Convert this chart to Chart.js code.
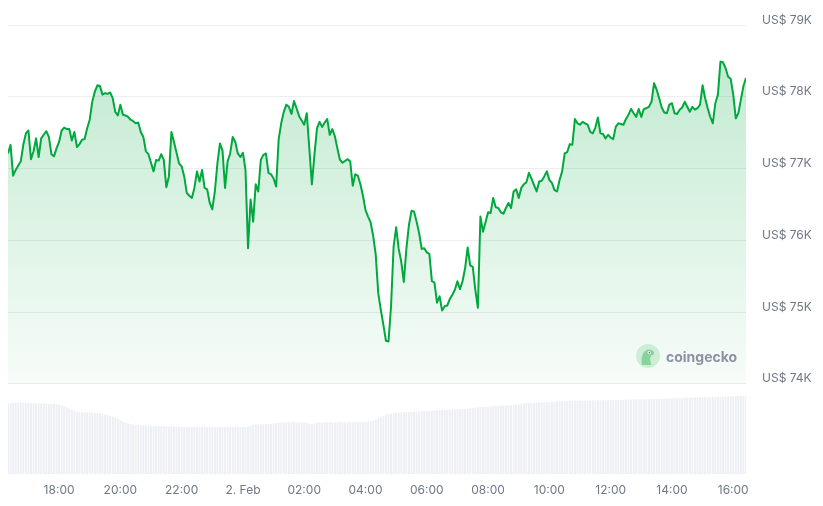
<!DOCTYPE html>
<html>
<head>
<meta charset="utf-8">
<script src="https://cdn.jsdelivr.net/npm/chart.js@4.4.1/dist/chart.umd.min.js"></script>
<style>
  html, body { margin: 0; padding: 0; background: #fff; }
  #wrap { position: relative; width: 823px; height: 506px; overflow: hidden; }
  #priceChart { position: absolute; left: 0; top: 0; }
  #volumeChart { position: absolute; left: 0; top: 392px; }
  #mark { position: absolute; left: 636px; top: 344px; height: 24px; display: flex; align-items: center;
          font-family: Inter, "Noto Sans", sans-serif; font-weight: 700; font-size: 14px; color: #8a93a2; }
  #mark svg { margin-right: 6px; }
</style>
</head>
<body>
<div id="wrap">
  <canvas id="volumeChart" width="823" height="114"></canvas>
  <canvas id="priceChart" width="823" height="407"></canvas>
  <div id="mark">
    <svg width="24" height="24" viewBox="0 0 24 24">
      <circle cx="12" cy="12" r="12" fill="#cdeed5"/>
      <path d="M6 21 C5 15 6 9 10 6.5 C13 4.5 17 5.5 18 8.5 C18.6 10.5 17 11.5 15 11.5 C14 14 14 17 15.5 21 Z" fill="#86d49a"/>
      <circle cx="13.2" cy="8.6" r="1.6" fill="#fff"/>
      <circle cx="13.4" cy="8.6" r="0.8" fill="#5b6472"/>
    </svg>
    <span>coingecko</span>
  </div>
</div>
<script>
// BTC price, 1 Feb 16:20 -> 2 Feb 16:25 (time = minutes since 1 Feb 00:00)
const priceMinutes = [
  980, 985, 990, 995, 1005, 1010, 1015, 1020, 1025, 1030, 1035, 1040, 1045, 1050, 1055, 1060, 1065, 1070, 1075,
  1080, 1085, 1090, 1095, 1100, 1105, 1110, 1115, 1120, 1125, 1130, 1135, 1140, 1145, 1150, 1155, 1160, 1165,
  1170, 1175, 1180, 1185, 1190, 1195, 1200, 1205, 1210, 1215, 1220, 1225, 1230, 1235, 1240, 1245, 1250, 1255,
  1260, 1265, 1270, 1275, 1280, 1285, 1290, 1295, 1300, 1305, 1310, 1315, 1320, 1325, 1330, 1335, 1340, 1345,
  1350, 1355, 1360, 1365, 1370, 1375, 1380, 1385, 1390, 1395, 1400, 1405, 1410, 1415, 1420, 1425, 1430, 1435,
  1440, 1445, 1450, 1455, 1460, 1465, 1470, 1475, 1480, 1485, 1490, 1495, 1500, 1505, 1510, 1515, 1520, 1525,
  1530, 1535, 1540, 1545, 1550, 1560, 1565, 1570, 1575, 1580, 1585, 1590, 1595, 1600, 1605, 1610, 1615, 1620,
  1625, 1630, 1635, 1645, 1650, 1655, 1660, 1665, 1670, 1675, 1680, 1685, 1690, 1695, 1700, 1705, 1710, 1715,
  1720, 1725, 1730, 1735, 1740, 1745, 1750, 1755, 1760, 1765, 1770, 1775, 1780, 1785, 1790, 1795, 1800, 1805,
  1810, 1815, 1820, 1825, 1830, 1835, 1840, 1845, 1850, 1855, 1860, 1865, 1870, 1875, 1880, 1885, 1890, 1895,
  1900, 1905, 1910, 1915, 1920, 1925, 1930, 1935, 1940, 1945, 1950, 1955, 1960, 1965, 1970, 1975, 1980, 1985,
  1990, 1995, 2000, 2005, 2010, 2015, 2020, 2025, 2030, 2035, 2040, 2045, 2050, 2055, 2060, 2065, 2070, 2075,
  2080, 2085, 2090, 2095, 2100, 2105, 2110, 2115, 2120, 2125, 2130, 2135, 2140, 2145, 2150, 2155, 2160, 2165,
  2170, 2175, 2180, 2185, 2190, 2195, 2200, 2205, 2210, 2215, 2220, 2225, 2230, 2235, 2240, 2245, 2250, 2255,
  2260, 2265, 2270, 2275, 2280, 2285, 2290, 2295, 2300, 2305, 2310, 2315, 2320, 2325, 2330, 2335, 2340, 2345,
  2350, 2355, 2360, 2365, 2370, 2375, 2380, 2385, 2390, 2395, 2400, 2405, 2410, 2415, 2420, 2425
];
const priceValues = [
  77210, 77330, 76900, 76980, 77100, 77330, 77490, 77530, 77130, 77240, 77420, 77160, 77420, 77470, 77520, 77440, 77200, 77170, 77280,
  77370, 77530, 77570, 77550, 77550, 77390, 77510, 77300, 77340, 77400, 77410, 77560, 77680, 77930, 78070, 78160, 78150, 78030,
  78050, 78040, 78060, 77980, 77790, 77740, 77890, 77750, 77740, 77720, 77680, 77660, 77630, 77640, 77510, 77440, 77240, 77200,
  77080, 76960, 77120, 77110, 77200, 77120, 76740, 76890, 77510, 77370, 77220, 77070, 77030, 76890, 76660, 76620, 76590, 76730,
  76960, 76820, 76980, 76730, 76710, 76520, 76430, 76680, 77070, 77350, 77250, 76730, 77100, 77210, 77440, 77370, 77210, 77160,
  77220, 76980, 75890, 76570, 76260, 76780, 76680, 77120, 77190, 77210, 76940, 76920, 76860, 76750, 77410, 77630, 77790, 77890,
  77860, 77760, 77940, 77840, 77730, 77610, 77770, 77280, 76780, 77190, 77560, 77650, 77580, 77640, 77690, 77470, 77550, 77450,
  77280, 77120, 77080, 77130, 77100, 76760, 76920, 76900, 76780, 76620, 76420, 76330, 76250, 76060, 75800, 75260, 75030, 74820,
  74600, 74590, 75080, 75910, 76180, 75880, 75700, 75420, 75880, 76210, 76410, 76400, 76260, 76100, 75880, 75890, 75830, 75810,
  75430, 75410, 75130, 75220, 75020, 75080, 75090, 75180, 75240, 75310, 75430, 75320, 75430, 75610, 75900, 75650, 75630, 75310,
  75060, 76330, 76120, 76250, 76390, 76380, 76590, 76460, 76450, 76390, 76370, 76450, 76520, 76450, 76680, 76710, 76590, 76730,
  76780, 76810, 76940, 76860, 76770, 76680, 76820, 76830, 76890, 76960, 76840, 76800, 76700, 76680, 76840, 76960, 77210, 77230,
  77340, 77330, 77690, 77630, 77610, 77650, 77630, 77610, 77510, 77490, 77570, 77710, 77490, 77480, 77420, 77470, 77430, 77410,
  77580, 77630, 77620, 77610, 77690, 77750, 77830, 77770, 77720, 77830, 77720, 77830, 77840, 77860, 77930, 78190, 78100, 77980,
  77850, 77780, 77770, 77890, 77910, 77770, 77760, 77820, 77850, 77930, 77860, 77790, 77860, 77820, 77840, 77890, 78160, 77980,
  77840, 77720, 77630, 77910, 78030, 78490, 78480, 78400, 78280, 78250, 78030, 77700, 77770, 77960, 78150, 78260
];

// 24h volume in billions USD, one bar every 5 minutes from 16:20
const volumeStart = 980;
const volumeStep = 5;
const volumeValues = [
  37.0, 37.2, 37.3, 37.4, 37.4, 37.5, 37.4, 37.3, 37.4, 37.3, 37.2, 37.2, 37.1, 37.0, 37.0, 36.9, 36.8, 36.8, 36.7, 36.7,
  36.4, 36.0, 35.6, 35.0, 34.3,
  33.6, 33.0, 32.6, 32.4, 32.4, 32.3, 32.3, 32.2, 32.2, 32.0, 31.9, 31.8, 31.6,
  31.3, 31.0, 30.6, 30.2, 29.6, 29.0,
  28.2, 27.5, 27.0, 26.6, 26.3, 26.1, 25.9, 25.8,
  25.6, 25.5, 25.4, 25.3, 25.3, 25.2, 25.2, 25.1, 25.1, 25.0, 25.0, 24.9, 24.9, 24.8, 24.8, 24.8,
  24.8, 24.7, 24.7, 24.6, 24.7, 24.8, 24.7, 24.6, 24.6, 24.5, 24.6, 24.7, 24.6, 24.5, 24.5, 24.6, 24.7, 24.7, 24.6, 24.6,
  24.7, 24.8, 24.8, 24.7, 24.7, 24.8, 24.9,
  25.3, 25.8, 26.0, 26.1, 26.2, 26.2, 26.3, 26.3, 26.4, 26.6, 26.8, 26.9,
  27.0, 27.1, 27.1, 27.1, 27.2, 27.2, 27.1, 27.1, 27.2, 27.1, 27.0, 26.5,
  26.2, 26.6, 27.0, 27.1, 27.1, 27.1, 27.2, 27.1, 27.1, 27.1, 27.2, 27.2, 27.1, 27.1, 27.2, 27.2, 27.2, 27.2, 27.3, 27.3,
  27.3, 27.4, 27.5, 27.7,
  28.0, 28.6, 29.3, 29.9, 30.5, 31.0, 31.4, 31.7,
  31.9, 32.1, 32.2, 32.3, 32.4, 32.5, 32.5, 32.6, 32.7, 32.7, 32.8, 32.9,
  33.0, 33.0, 33.1, 33.2, 33.3, 33.3, 33.4, 33.5, 33.6, 33.6, 33.7, 33.8, 33.9, 34.0, 34.0,
  34.1, 34.2, 34.3, 34.4, 34.6, 34.8, 35.0, 35.1, 35.2, 35.3, 35.4, 35.5,
  35.6, 35.7, 35.8, 35.8, 35.9, 36.0, 36.1, 36.2, 36.3, 36.4, 36.6, 36.8, 37.0, 37.1,
  37.2, 37.3, 37.3, 37.4, 37.5, 37.5, 37.6, 37.7, 37.7, 37.8, 37.9, 38.0, 38.1, 38.1, 38.2, 38.3, 38.4,
  38.5, 38.5, 38.5, 38.6, 38.6, 38.6, 38.6, 38.6, 38.7, 38.7, 38.7, 38.7, 38.7, 38.8, 38.8, 38.8, 38.8, 38.9, 38.9, 38.9,
  39.0, 39.0, 39.0,
  39.1, 39.1, 39.2, 39.2, 39.2, 39.3, 39.3, 39.3, 39.3, 39.4, 39.4, 39.4, 39.5, 39.5, 39.6, 39.6, 39.7, 39.7, 39.8, 39.8,
  39.9, 40.0,
  40.0, 40.1, 40.1, 40.2, 40.2, 40.2, 40.3, 40.3, 40.3, 40.4, 40.4, 40.4, 40.5, 40.5, 40.6, 40.6, 40.7, 40.7, 40.8,
  40.8, 40.9, 40.9, 41.0, 40.9
];

// axis ticks
const tickMinutes = [1080, 1200, 1320, 1440, 1560, 1680, 1800, 1920, 2040, 2160, 2280, 2400];
const tickLabels = ['18:00', '20:00', '22:00', '2. Feb', '02:00', '04:00', '06:00', '08:00', '10:00', '12:00', '14:00', '16:00'];
const priceTicks = [74000, 75000, 76000, 77000, 78000, 79000];

const xMin = 980;
const xMax = 2425;
const green = 'rgb(0, 168, 62)';
const tickColor = '#6f7886';
const tickFont = { family: 'Inter, "Noto Sans", sans-serif', size: 12 };

Chart.defaults.animation = false;
Chart.defaults.devicePixelRatio = 1;

// price chart (the bottom tick label + padding reserves ~23px under the plot)
const pctx = document.getElementById('priceChart').getContext('2d');
const fillGrad = pctx.createLinearGradient(0, 25, 0, 384);
fillGrad.addColorStop(0, 'rgba(0, 168, 62, 0.26)');
fillGrad.addColorStop(1, 'rgba(0, 168, 62, 0.03)');

new Chart(pctx, {
  type: 'line',
  data: {
    datasets: [{
      data: priceMinutes.map((m, i) => ({ x: m, y: priceValues[i] })),
      borderColor: green,
      borderWidth: 2,
      borderJoinStyle: 'round',
      backgroundColor: fillGrad,
      fill: 'start',
      pointRadius: 0,
      tension: 0
    }]
  },
  options: {
    responsive: false,
    layout: { padding: { top: 25, left: 8, bottom: 0, right: 0 } },
    plugins: { legend: { display: false }, tooltip: { enabled: false } },
    scales: {
      x: { type: 'linear', min: xMin, max: xMax, display: false },
      y: {
        position: 'right',
        min: 74000,
        max: 79000,
        afterFit: (s) => { s.width = 77; },
        afterBuildTicks: (s) => { s.ticks = priceTicks.map(v => ({ value: v })); },
        grid: { color: '#eceef1', lineWidth: 1, drawTicks: false },
        border: { display: false },
        ticks: {
          padding: 16,
          labelOffset: -5,
          color: tickColor,
          font: tickFont,
          callback: (v) => 'US$ ' + (v / 1000) + 'K'
        }
      }
    }
  }
});

// volume chart
const vctx = document.getElementById('volumeChart').getContext('2d');
new Chart(vctx, {
  type: 'bar',
  data: {
    datasets: [{
      data: volumeValues.map((v, i) => ({ x: volumeStart + i * volumeStep, y: v })),
      backgroundColor: '#eceff3',
      barPercentage: 0.75,
      categoryPercentage: 1
    }]
  },
  options: {
    responsive: false,
    layout: { padding: { top: 2, left: 8, right: 77, bottom: 0 } },
    plugins: { legend: { display: false }, tooltip: { enabled: false } },
    scales: {
      x: {
        type: 'linear',
        min: xMin,
        max: xMax,
        offset: false,
        afterFit: (s) => { s.height = 32; },
        afterBuildTicks: (s) => { s.ticks = tickMinutes.map(v => ({ value: v })); },
        grid: { display: false },
        border: { display: false },
        ticks: {
          padding: 1,
          maxRotation: 0,
          autoSkip: false,
          color: tickColor,
          font: tickFont,
          callback: (v) => tickLabels[tickMinutes.indexOf(v)]
        }
      },
      y: { min: 0, max: 42, display: false }
    }
  }
});
</script>
</body>
</html>
